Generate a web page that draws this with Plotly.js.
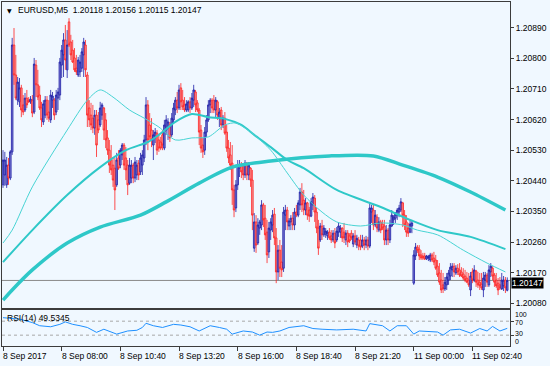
<!DOCTYPE html>
<html><head><meta charset="utf-8">
<script src="https://cdn.plot.ly/plotly-3.0.1.min.js"></script>
<style>html,body{margin:0;padding:0;background:#f0f8ff;}#chart{width:550px;height:366px;}</style>
</head><body><div id="chart"></div>
<script>
const symbol = 'EURUSD,M5';
const timeLabels = ['8 Sep 2017','8 Sep 08:00','8 Sep 10:40','8 Sep 13:20','8 Sep 16:00','8 Sep 18:40','8 Sep 21:20','11 Sep 00:00','11 Sep 02:40'];
const timeLabelBars = [0,32,64,96,128,160,192,224,256];
const priceTicks = [1.2008,1.2017,1.2026,1.2035,1.2044,1.2053,1.2062,1.2071,1.2080,1.2089];

const open = [
1.20428,1.20457,1.20428,1.20486,1.20448,1.20525,1.20839,1.20751,1.20677,1.20672,
1.20713,1.20663,1.20648,1.20683,1.20677,1.20672,1.20677,1.20642,1.20780,1.20722,
1.20692,1.20654,1.20613,1.20633,1.20677,1.20642,1.20619,1.20677,1.20677,1.20642,
1.20683,1.20692,1.20780,1.20810,1.20854,1.20766,1.20907,1.20848,1.20824,1.20801,
1.20771,1.20751,1.20760,1.20771,1.20810,1.20839,1.20751,1.20654,1.20633,1.20624,
1.20595,1.20633,1.20619,1.20604,1.20633,1.20654,1.20619,1.20566,1.20530,1.20501,
1.20486,1.20477,1.20428,1.20507,1.20486,1.20516,1.20545,1.20507,
1.20486,1.20433,1.20448,1.20486,1.20448,1.20457,1.20492,1.20466,1.20486,1.20507,
1.20560,1.20663,1.20604,1.20589,1.20545,1.20566,1.20580,1.20560,1.20554,1.20575,
1.20536,1.20589,1.20595,1.20604,1.20575,1.20619,1.20648,1.20677,1.20654,1.20713,
1.20677,1.20663,1.20648,1.20648,1.20672,1.20654,1.20677,1.20701,1.20669,1.20648,
1.20589,1.20545,1.20530,1.20583,1.20619,1.20663,1.20677,1.20677,1.20648,1.20672,
1.20624,1.20648,1.20604,1.20624,1.20583,1.20536,1.20516,1.20492,1.20413,1.20360,
1.20428,1.20477,1.20486,1.20486,1.20457,1.20492,1.20457,1.20477,1.20442,
1.20242,1.20319,1.20257,1.20301,1.20310,1.20369,1.20330,1.20289,1.20231,1.20295,
1.20310,1.20342,1.20272,1.20172,1.20236,1.20201,1.20183,1.20339,1.20354,1.20307,
1.20319,1.20330,1.20310,1.20348,1.20339,1.20369,1.20407,1.20383,1.20354,1.20375,
1.20354,1.20336,1.20369,1.20389,1.20348,1.20301,1.20266,1.20307,1.20281,1.20283,
1.20278,1.20289,1.20278,1.20266,1.20286,1.20266,1.20289,1.20289,1.20301,1.20289,
1.20266,1.20286,1.20278,1.20286,1.20254,1.20278,1.20251,1.20266,1.20266,1.20248,
1.20266,1.20251,1.20266,1.20248,1.20348,1.20354,1.20310,1.20333,1.20295,1.20319,
1.20313,1.20307,1.20266,1.20295,1.20266,1.20307,1.20325,1.20330,1.20339,1.20348,
1.20354,1.20375,1.20339,1.20319,1.20301,1.20289,1.20307,
1.20139,1.20219,1.20245,1.20239,1.20222,1.20219,1.20219,1.20210,1.20213,1.20207,
1.20222,1.20213,1.20207,1.20189,1.20169,1.20148,1.20134,1.20122,1.20134,1.20148,
1.20160,1.20178,1.20189,1.20169,1.20183,1.20178,1.20172,1.20166,1.20160,1.20154,
1.20148,1.20119,1.20172,1.20148,1.20175,1.20148,1.20142,1.20136,1.20119,1.20148,
1.20163,1.20134,1.20172,1.20183,1.20163,1.20148,1.20139,1.20134,1.20122,1.20131,
1.20148,1.20118];

const high = [
1.20530,1.20525,1.20510,1.20507,1.20530,1.20860,1.20889,1.20810,1.20745,1.20742,
1.20722,1.20692,1.20698,1.20707,1.20686,1.20689,1.20692,1.20801,1.20795,1.20766,
1.20719,1.20672,1.20677,1.20689,1.20689,1.20677,1.20707,1.20701,1.20683,1.20707,
1.20713,1.20801,1.20839,1.20874,1.20898,1.20883,1.20918,1.20869,1.20854,1.20830,
1.20810,1.20804,1.20810,1.20830,1.20860,1.20854,1.20760,1.20677,1.20669,1.20663,
1.20648,1.20648,1.20642,1.20672,1.20669,1.20657,1.20639,1.20589,1.20560,1.20545,
1.20510,1.20507,1.20522,1.20530,1.20536,1.20551,1.20551,1.20539,
1.20501,1.20507,1.20501,1.20492,1.20510,1.20501,1.20501,1.20522,1.20530,1.20575,
1.20686,1.20677,1.20639,1.20624,1.20589,1.20595,1.20589,1.20575,1.20569,1.20589,
1.20619,1.20633,1.20624,1.20613,1.20639,1.20669,1.20686,1.20701,1.20722,1.20727,
1.20707,1.20686,1.20677,1.20677,1.20686,1.20698,1.20722,1.20707,1.20677,1.20654,
1.20604,1.20566,1.20598,1.20633,1.20677,1.20683,1.20683,1.20692,1.20686,1.20677,
1.20654,1.20657,1.20633,1.20642,1.20604,1.20560,1.20554,1.20545,1.20428,1.20442,
1.20501,1.20501,1.20495,1.20489,1.20501,1.20495,1.20495,1.20480,1.20472,
1.20345,1.20339,1.20330,1.20325,1.20383,1.20375,1.20369,1.20325,1.20319,1.20330,
1.20354,1.20360,1.20301,1.20251,1.20266,1.20251,1.20363,1.20369,1.20363,1.20330,
1.20339,1.20348,1.20360,1.20369,1.20383,1.20419,1.20433,1.20413,1.20389,1.20378,
1.20363,1.20389,1.20404,1.20398,1.20360,1.20325,1.20316,1.20325,1.20310,1.20301,
1.20295,1.20301,1.20295,1.20295,1.20301,1.20304,1.20316,1.20310,1.20303,1.20316,
1.20295,1.20295,1.20286,1.20295,1.20286,1.20295,1.20281,1.20275,1.20281,1.20281,
1.20275,1.20278,1.20275,1.20375,1.20369,1.20369,1.20354,1.20342,1.20333,1.20325,
1.20325,1.20325,1.20310,1.20301,1.20325,1.20354,1.20339,1.20348,1.20360,1.20369,
1.20389,1.20378,1.20354,1.20339,1.20316,1.20325,1.20325,
1.20236,1.20257,1.20251,1.20251,1.20236,1.20228,1.20228,1.20222,1.20222,1.20228,
1.20228,1.20231,1.20222,1.20207,1.20198,1.20178,1.20169,1.20157,1.20169,1.20178,
1.20198,1.20198,1.20198,1.20192,1.20195,1.20198,1.20186,1.20183,1.20178,1.20172,
1.20169,1.20172,1.20183,1.20192,1.20178,1.20172,1.20169,1.20169,1.20172,1.20172,
1.20169,1.20192,1.20198,1.20189,1.20169,1.20169,1.20154,1.20157,1.20169,1.20160,
1.20157,1.20156];

const low = [
1.20419,1.20425,1.20419,1.20428,1.20442,1.20516,1.20722,1.20677,1.20663,1.20657,
1.20627,1.20633,1.20642,1.20654,1.20669,1.20666,1.20627,1.20636,1.20686,1.20677,
1.20648,1.20598,1.20604,1.20624,1.20619,1.20613,1.20610,1.20654,1.20619,1.20633,
1.20648,1.20677,1.20742,1.20745,1.20766,1.20742,1.20833,1.20795,1.20786,1.20760,
1.20751,1.20745,1.20745,1.20760,1.20745,1.20745,1.20598,1.20598,1.20589,1.20580,
1.20575,1.20510,1.20580,1.20598,1.20619,1.20560,1.20536,1.20516,1.20463,1.20457,
1.20422,1.20354,1.20422,1.20472,1.20477,1.20501,1.20472,1.20442,
1.20398,1.20428,1.20433,1.20433,1.20436,1.20442,1.20442,1.20457,1.20457,1.20495,
1.20545,1.20530,1.20560,1.20539,1.20501,1.20551,1.20516,1.20525,1.20530,1.20530,
1.20530,1.20575,1.20560,1.20554,1.20569,1.20610,1.20633,1.20639,1.20648,1.20648,
1.20648,1.20642,1.20642,1.20642,1.20639,1.20648,1.20657,1.20642,1.20642,1.20545,
1.20522,1.20507,1.20516,1.20569,1.20613,1.20639,1.20639,1.20639,1.20627,1.20619,
1.20598,1.20589,1.20595,1.20575,1.20525,1.20492,1.20472,1.20369,1.20333,1.20348,
1.20413,1.20451,1.20448,1.20442,1.20448,1.20442,1.20442,1.20422,1.20295,
1.20231,1.20228,1.20251,1.20281,1.20295,1.20304,1.20266,1.20198,1.20213,1.20266,
1.20289,1.20251,1.20139,1.20148,1.20157,1.20157,1.20172,1.20295,1.20295,1.20295,
1.20295,1.20295,1.20295,1.20333,1.20333,1.20354,1.20348,1.20339,1.20339,1.20325,
1.20319,1.20333,1.20354,1.20319,1.20286,1.20222,1.20260,1.20266,1.20275,1.20272,
1.20266,1.20266,1.20257,1.20260,1.20242,1.20260,1.20275,1.20272,1.20260,1.20257,
1.20251,1.20245,1.20257,1.20266,1.20245,1.20251,1.20242,1.20236,1.20236,1.20242,
1.20236,1.20242,1.20236,1.20242,1.20316,1.20295,1.20304,1.20289,1.20289,1.20286,
1.20295,1.20251,1.20251,1.20251,1.20257,1.20304,1.20310,1.20316,1.20325,1.20333,
1.20348,1.20304,1.20295,1.20275,1.20275,1.20286,1.20286,
1.20134,1.20207,1.20228,1.20207,1.20207,1.20207,1.20207,1.20207,1.20204,1.20201,
1.20201,1.20192,1.20178,1.20157,1.20134,1.20110,1.20110,1.20116,1.20119,1.20134,
1.20148,1.20157,1.20157,1.20163,1.20163,1.20157,1.20157,1.20148,1.20142,1.20139,
1.20128,1.20101,1.20139,1.20142,1.20128,1.20125,1.20119,1.20119,1.20098,1.20128,
1.20128,1.20128,1.20157,1.20148,1.20128,1.20125,1.20104,1.20119,1.20119,1.20116,
1.20110,1.20115];

const close = [
1.20501,1.20501,1.20486,1.20448,1.20525,1.20839,1.20751,1.20683,1.20730,1.20713,
1.20648,1.20642,1.20683,1.20663,1.20672,1.20680,1.20639,1.20783,1.20722,1.20686,
1.20654,1.20619,1.20666,1.20677,1.20633,1.20624,1.20692,1.20689,1.20633,1.20692,
1.20701,1.20789,1.20824,1.20854,1.20795,1.20839,1.20839,1.20810,1.20789,1.20766,
1.20760,1.20795,1.20789,1.20819,1.20848,1.20766,1.20633,1.20619,1.20604,1.20595,
1.20633,1.20545,1.20589,1.20654,1.20663,1.20589,1.20560,1.20530,1.20486,1.20472,
1.20442,1.20413,1.20501,1.20477,1.20530,1.20545,1.20486,1.20472,
1.20428,1.20486,1.20486,1.20448,1.20495,1.20486,1.20457,1.20507,1.20516,1.20560,
1.20663,1.20560,1.20569,1.20560,1.20575,1.20583,1.20530,1.20536,1.20536,1.20545,
1.20604,1.20619,1.20613,1.20566,1.20624,1.20654,1.20677,1.20654,1.20707,1.20672,
1.20657,1.20648,1.20666,1.20672,1.20654,1.20683,1.20707,1.20663,1.20648,1.20583,
1.20536,1.20525,1.20583,1.20619,1.20663,1.20677,1.20654,1.20648,1.20677,1.20633,
1.20642,1.20604,1.20624,1.20580,1.20536,1.20507,1.20486,1.20413,1.20354,1.20428,
1.20486,1.20486,1.20466,1.20457,1.20492,1.20457,1.20486,1.20442,1.20339,
1.20319,1.20251,1.20310,1.20319,1.20369,1.20325,1.20281,1.20222,1.20301,1.20319,
1.20339,1.20272,1.20172,1.20236,1.20183,1.20178,1.20348,1.20354,1.20319,1.20322,
1.20330,1.20310,1.20348,1.20339,1.20375,1.20407,1.20369,1.20354,1.20375,1.20339,
1.20336,1.20378,1.20392,1.20348,1.20301,1.20242,1.20307,1.20281,1.20301,1.20292,
1.20289,1.20272,1.20266,1.20286,1.20257,1.20292,1.20307,1.20301,1.20272,1.20272,
1.20286,1.20260,1.20263,1.20272,1.20278,1.20260,1.20271,1.20248,1.20245,1.20266,
1.20251,1.20266,1.20248,1.20360,1.20360,1.20310,1.20339,1.20301,1.20319,1.20295,
1.20301,1.20266,1.20295,1.20266,1.20310,1.20339,1.20333,1.20342,1.20354,1.20360,
1.20378,1.20339,1.20310,1.20289,1.20286,1.20313,1.20316,
1.20222,1.20245,1.20236,1.20219,1.20213,1.20213,1.20210,1.20219,1.20216,1.20222,
1.20207,1.20201,1.20183,1.20163,1.20142,1.20119,1.20122,1.20142,1.20157,1.20169,
1.20186,1.20189,1.20172,1.20183,1.20172,1.20163,1.20160,1.20154,1.20148,1.20142,
1.20134,1.20160,1.20148,1.20178,1.20142,1.20134,1.20131,1.20125,1.20154,1.20163,
1.20142,1.20178,1.20189,1.20160,1.20142,1.20131,1.20119,1.20125,1.20148,1.20148,
1.20125,1.20147];

// moving averages at sample bars
const maFastBars = [0,5,16,35,46,53,60,69,77,85,94,103,112,121,127,132,137,146,155,164,174,182,195,206,218,226,237,251,264,274];
const maFast = [1.20257,1.20295,1.20422,1.20589,1.20677,1.20707,1.20686,1.20648,1.20624,1.20598,1.20560,1.20566,1.20569,1.20604,1.20610,1.20595,1.20575,1.20530,1.20463,1.20398,1.20348,1.20319,1.20307,1.20316,1.20310,1.20295,1.20281,1.20236,1.20198,1.20172];
const maMidBars = [0,16,35,53,67,79,85,94,103,112,121,130,137,146,155,164,182,206,222,237,255,274];
const maMid = [1.20201,1.20295,1.20398,1.20480,1.20530,1.20554,1.20575,1.20613,1.20636,1.20627,1.20622,1.20604,1.20575,1.20539,1.20501,1.20477,1.20413,1.20363,1.20325,1.20295,1.20275,1.20239];
const maSlowBars = [0,5,16,35,53,75,89,107,125,146,178,202,218,237,255,274];
const maSlow = [1.20089,1.20119,1.20178,1.20257,1.20304,1.20339,1.20378,1.20433,1.20480,1.20498,1.20513,1.20513,1.20486,1.20451,1.20407,1.20354];

const rsiBars = [0,9,16,20,26,31,34,38,42,46,51,55,62,68,73,76,78,82,87,93,97,102,107,113,118,122,125,131,136,140,144,147,151,156,164,169,174,182,191,198,200,207,211,215,220,224,227,237,240,244,249,255,260,264,267,271,275];
const rsi = [80,76,66,57,54,61,68,61,57,52,38,47,33,42,44,52,64,57,52,61,59,54,42,57,52,47,33,42,39,30,39,38,42,52,57,49,47,45,47,42,63,57,42,57,57,33,42,39,30,45,47,36,49,42,55,42,49.5345];
const rsiLevels = [70, 30];
const rsiScale = ['100', '70', '30', '0'];

const bars = open.map((_, i) => i);
const last = close.length - 1;
const FONT = '"Liberation Sans", Arial, sans-serif';
const FS = 8.5;
const MA_COLOR = '#2ec8c8';

const traces = [
  {type:'scatter', mode:'lines', x:maSlowBars, y:maSlow, xaxis:'x', yaxis:'y', line:{color:MA_COLOR, width:3.5, shape:'spline', smoothing:0.8}, hoverinfo:'skip'},
  {type:'scatter', mode:'lines', x:maMidBars, y:maMid, xaxis:'x', yaxis:'y', line:{color:MA_COLOR, width:2, shape:'spline', smoothing:0.8}, hoverinfo:'skip'},
  {type:'scatter', mode:'lines', x:maFastBars, y:maFast, xaxis:'x', yaxis:'y', line:{color:'#48d4d4', width:1, shape:'spline', smoothing:0.8}, hoverinfo:'skip'},
  {type:'candlestick', x:bars, open:open, high:high, low:low, close:close, xaxis:'x', yaxis:'y',
   increasing:{line:{color:'#1c1ca6', width:0.8}, fillcolor:'#7d7dd2'},
   decreasing:{line:{color:'#ff2020', width:0.8}, fillcolor:'#f59a9a'},
   whiskerwidth:0, hoverinfo:'skip'},
  {type:'scatter', mode:'lines', x:rsiBars, y:rsi, xaxis:'x2', yaxis:'y2', line:{color:'#1e90ff', width:1}, hoverinfo:'skip'}
];

const xr = [-0.55, 276.5];
const frame = '#3c3c3c';
const pyTop = 2, pyBot = 346, ph = pyBot - pyTop;
const py = v => (pyBot - v) / ph;       // pixel row -> paper y
const px = v => (v - 2) / 508;          // pixel col -> paper x

const annotations = [
  {xref:'paper', yref:'paper', x:px(9.5), y:py(10), text:'▼', showarrow:false, xanchor:'center', yanchor:'middle', font:{family:'DejaVu Sans', size:6, color:'#000'}},
  {xref:'paper', yref:'paper', x:px(16), y:py(10), showarrow:false, xanchor:'left', yanchor:'middle',
   text: symbol + '\u00a0\u00a0' + [open[last], high[last], low[last], close[last]].map(v => v.toFixed(5)).join('\u00a0'),
   font:{family:FONT, size:FS, color:'#000'}},
  {xref:'paper', yref:'paper', x:px(5), y:py(318), showarrow:false, xanchor:'left', yanchor:'middle',
   text:'RSI(14)\u00a0' + rsi[rsi.length-1].toFixed(4), font:{family:FONT, size:FS, color:'#000'}},
  {xref:'paper', yref:'y', x:1, xshift:1, y:close[last], yshift:-3, showarrow:false, xanchor:'left', yanchor:'middle',
   text:close[last].toFixed(5), bgcolor:'#000000', borderpad:0, font:{family:FONT, size:FS, color:'#ffffff'}}
];
const scaleRows = [314, 322.5, 333, 341.5];
rsiScale.forEach((t, k) => annotations.push({
  xref:'paper', yref:'paper', x:px(514), y:py(scaleRows[k]), text:t, showarrow:false, xanchor:'left', yanchor:'middle',
  borderpad:0, font:{family:FONT, size:7, color:'#000'}
}));
timeLabels.forEach((t, k) => annotations.push({
  xref:'x', yref:'paper', x:timeLabelBars[k], xshift:-2, y:py(356), text:t, showarrow:false,
  xanchor:'left', yanchor:'middle', font:{family:FONT, size:FS, color:'#000'}
}));

const shapes = [
  {type:'line', layer:'below', xref:'paper', x0:0, x1:1, yref:'y', y0:close[last], y1:close[last], line:{color:'#8a8a8a', width:1}}
];
rsiLevels.forEach(l => shapes.push({type:'line', layer:'below', xref:'paper', x0:0, x1:1, yref:'y2', y0:l, y1:l, line:{color:'#a8a8a8', width:1, dash:'3px,3px'}}));

const layout = {
  width:550, height:366,
  margin:{l:2, r:40, t:2, b:20},
  paper_bgcolor:'#f0f8ff', plot_bgcolor:'#f0f8ff',
  showlegend:false,
  boxgap:0.15, boxgroupgap:0,
  font:{family:FONT, size:FS, color:'#000'},
  xaxis:{domain:[0,1], anchor:'y', range:xr, showticklabels:false, ticks:'', showgrid:false, zeroline:false,
         showline:true, mirror:true, linecolor:frame, linewidth:1, rangeslider:{visible:false}, fixedrange:true},
  yaxis:{domain:[py(308),1], anchor:'x', side:'right', range:[1.20066,1.209655], tickvals:priceTicks, tickformat:'.5f',
         ticks:'outside', ticklen:3, tickcolor:frame, showgrid:false, zeroline:false, showline:true, mirror:true,
         linecolor:frame, linewidth:1, tickfont:{family:FONT, size:FS, color:'#000'}, fixedrange:true},
  xaxis2:{domain:[0,1], anchor:'y2', range:xr, tickvals:timeLabelBars, showticklabels:false, ticks:'outside', ticklen:4,
          tickcolor:frame, showgrid:false, zeroline:false, showline:true, mirror:true, linecolor:frame, linewidth:1, fixedrange:true},
  yaxis2:{domain:[0, py(310)], anchor:'x2', side:'right', range:[-1,102], tickvals:rsiLevels, showticklabels:false,
          ticks:'outside', ticklen:3, tickcolor:frame, showgrid:false, zeroline:false, showline:true, mirror:true,
          linecolor:frame, linewidth:1, fixedrange:true},
  shapes:shapes,
  annotations:annotations
};

Plotly.newPlot('chart', traces, layout, {displayModeBar:false, staticPlot:true});
</script>
</body></html>
